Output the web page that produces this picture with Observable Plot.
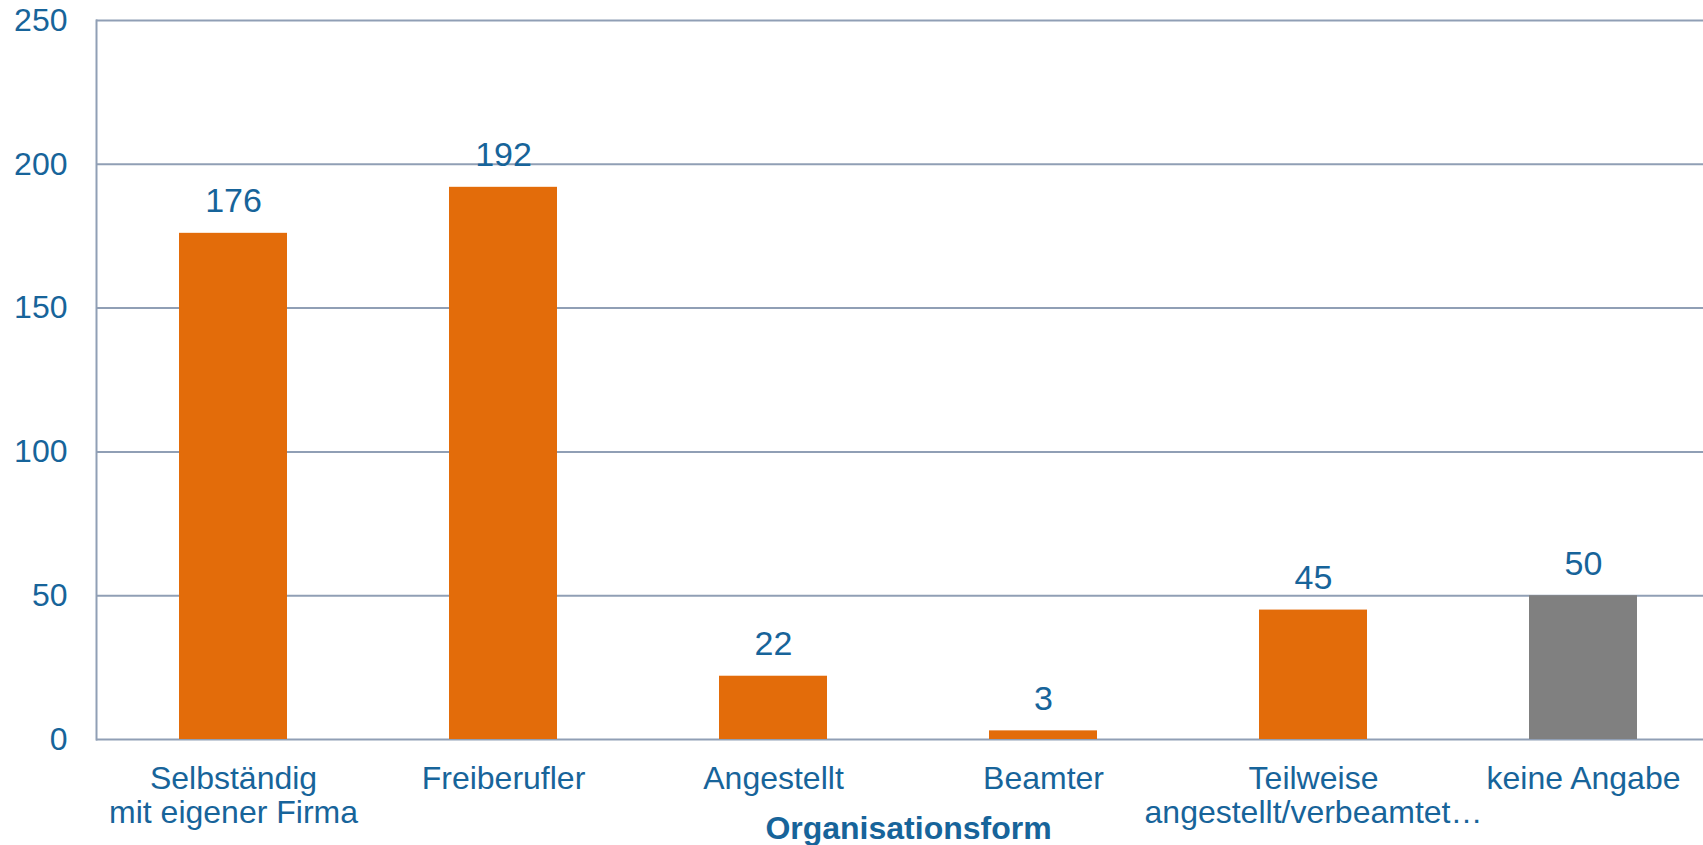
<!DOCTYPE html>
<html>
<head>
<meta charset="utf-8">
<script src="https://cdn.jsdelivr.net/npm/d3@7"></script>
<script src="https://cdn.jsdelivr.net/npm/@observablehq/plot@0.6"></script>
<style>
  html, body { margin: 0; padding: 0; background: #fff; overflow: hidden; }
</style>
</head>
<body>
<div id="chart"></div>
<script>
const categories = ["Selbständig\nmit eigener Firma", "Freiberufler", "Angestellt", "Beamter", "Teilweise\nangestellt/verbeamtet…", "keine Angabe"];
const values = [176, 192, 22, 3, 45, 50];
const yTicks = [0, 50, 100, 150, 200, 250];
const axisTitle = "Organisationsform";

const data = categories.map((c, i) => ({category: c, value: values[i]}));

const textColor = "#17649A";
const gridColor = "#909FB5";
const orange = "#E36C0A";
const gray = "#808080";

const chart = Plot.plot({
  width: 1703,
  height: 845,
  marginTop: 20,
  marginBottom: 106,
  marginLeft: 96,
  marginRight: -17,
  style: {fontFamily: "'Liberation Sans', Arial, sans-serif", color: textColor, background: "#fff"},
  x: {domain: categories, paddingInner: 0.6, paddingOuter: 0.3},
  y: {domain: [0, 250]},
  marks: [
    Plot.ruleY(yTicks, {stroke: gridColor, strokeWidth: 2}),
    Plot.frame({anchor: "left", stroke: gridColor, strokeWidth: 2}),
    Plot.barY(data, {x: "category", y: "value", fill: d => d.category === "keine Angabe" ? gray : orange}),
    Plot.text(data, {x: "category", y: "value", text: d => String(d.value), dy: -21, lineAnchor: "bottom",
      fill: textColor, fontSize: 34, fontFamily: "'Liberation Sans Narrow', 'Arial Narrow', 'Liberation Sans', sans-serif"}),
    Plot.axisY({ticks: yTicks, tickSize: 0, tickPadding: 29, fontSize: 32, label: null, fill: textColor}),
    Plot.axisX({tickSize: 0, tickPadding: 25, fontSize: 32, lineHeight: 1.0625, label: null, fill: textColor}),
    Plot.text([axisTitle], {frameAnchor: "bottom", dy: 99, lineAnchor: "bottom", text: d => d,
      fontSize: 32, fontWeight: "bold", fill: textColor})
  ]
});
document.getElementById("chart").appendChild(chart);
</script>
</body>
</html>
